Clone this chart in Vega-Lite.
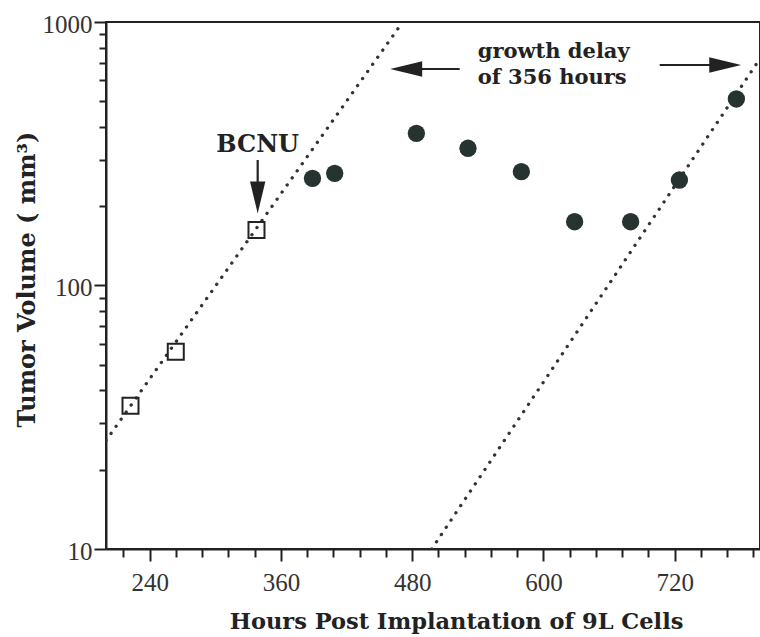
{
  "$schema": "https://vega.github.io/schema/vega-lite/v6.json",
  "width": 654,
  "height": 527,
  "autosize": {"type": "none"},
  "padding": {"left": 106, "top": 22, "right": 0, "bottom": 88},
  "background": "white",
  "config": {
    "view": {"stroke": "#222", "strokeWidth": 2},
    "axis": {
      "grid": false,
      "domainColor": "#222",
      "domainWidth": 2,
      "tickColor": "#222",
      "tickWidth": 2,
      "labelFont": "Liberation Serif",
      "labelFontSize": 25,
      "labelColor": "#333",
      "labelOverlap": false,
      "labelFlush": false,
      "titleFont": "DejaVu Serif",
      "titleFontSize": 22,
      "titleFontWeight": "bold",
      "titleColor": "#222"
    }
  },
  "datasets": {
    "fits": [
      {"hours": 200, "volume": 25.8, "fit": "untreated"},
      {"hours": 471.3, "volume": 1000, "fit": "untreated"},
      {"hours": 497.8, "volume": 10, "fit": "regrowth"},
      {"hours": 798, "volume": 726, "fit": "regrowth"}
    ],
    "beforeTreatment": [
      {"hours": 222.4, "volume": 35.0},
      {"hours": 263.8, "volume": 56.1},
      {"hours": 337.6, "volume": 162.4}
    ],
    "afterTreatment": [
      {"hours": 388.8, "volume": 255.2},
      {"hours": 409.1, "volume": 266.6},
      {"hours": 483.8, "volume": 378},
      {"hours": 531.0, "volume": 331.7},
      {"hours": 579.8, "volume": 270.4},
      {"hours": 628.5, "volume": 174.6},
      {"hours": 679.7, "volume": 174.6},
      {"hours": 724.3, "volume": 251.4},
      {"hours": 776.4, "volume": 510.4}
    ],
    "arrowShafts": [
      {"hours": 338.7, "hours2": 338.7, "volume": 299.5, "volume2": 230.4},
      {"hours": 482.3, "hours2": 523.4, "volume": 663.2, "volume2": 663.2},
      {"hours": 706.3, "hours2": 756.6, "volume": 686.8, "volume2": 686.8}
    ],
    "arrowHeads": [
      {"hours": 338.7, "volume": 215.8, "points": "down"},
      {"hours": 474.5, "volume": 663.2, "points": "left"},
      {"hours": 766.2, "volume": 686.8, "points": "right"}
    ],
    "treatmentLabel": [
      {"hours": 338.7, "volume": 321, "label": "BCNU"}
    ],
    "delayLabel": [
      {"hours": 539.9, "volume": 730.1, "label": "growth delay"},
      {"hours": 539.9, "volume": 581.8, "label": "of 356 hours"}
    ]
  },
  "encoding": {
    "x": {
      "field": "hours",
      "type": "quantitative",
      "scale": {"domain": [200, 798], "nice": false, "zero": false},
      "axis": {
        "title": "Hours Post Implantation of 9L Cells",
        "values": [216, 240, 264, 288, 312, 336, 360, 384, 408, 432, 456, 480, 504, 528, 552, 576, 600, 624, 648, 672, 696, 720, 744, 768, 792],
        "format": "d",
        "labelExpr": "datum.value % 120 == 0 ? datum.label : ''",
        "tickSize": {"condition": {"test": "datum.value % 120 == 0", "value": 12}, "value": 8},
        "labelPadding": 9,
        "titleFontSize": 22.5,
        "titleX": 350,
        "titleY": 79,
        "titleBaseline": "alphabetic"
      }
    },
    "y": {
      "field": "volume",
      "type": "quantitative",
      "scale": {"type": "log", "domain": [10, 1000], "nice": false},
      "axis": {
        "title": "Tumor Volume ( mm³)",
        "values": [10, 20, 30, 40, 50, 60, 70, 80, 90, 100, 200, 300, 400, 500, 600, 700, 800, 900, 1000],
        "format": "d",
        "labelExpr": "datum.value == 10 || datum.value == 100 || datum.value == 1000 ? datum.label : ''",
        "tickSize": {"condition": {"test": "datum.value == 10 || datum.value == 100 || datum.value == 1000", "value": 12}, "value": 7},
        "labelPadding": 2,
        "labelOffset": 2,
        "titleFontSize": 24,
        "titleX": -79,
        "titleY": 257,
        "titleBaseline": "middle"
      }
    }
  },
  "layer": [
    {
      "data": {"name": "fits"},
      "mark": {"type": "line", "clip": true, "strokeDash": [0.1, 8.6], "strokeCap": "round", "strokeWidth": 3.3, "color": "#333"},
      "encoding": {"detail": {"field": "fit", "type": "nominal"}}
    },
    {
      "data": {"name": "beforeTreatment"},
      "mark": {"type": "point", "shape": "square", "filled": false, "size": 256, "strokeWidth": 2, "color": "#222", "opacity": 1}
    },
    {
      "data": {"name": "afterTreatment"},
      "mark": {"type": "point", "shape": "circle", "filled": true, "size": 300, "color": "#263331", "opacity": 1}
    },
    {
      "data": {"name": "arrowShafts"},
      "mark": {"type": "rule", "strokeWidth": 2.2, "color": "#222"},
      "encoding": {
        "x2": {"field": "hours2"},
        "y2": {"field": "volume2"}
      }
    },
    {
      "data": {"name": "arrowHeads"},
      "mark": {"type": "point", "filled": true, "size": 1024, "color": "#222", "opacity": 1},
      "encoding": {
        "shape": {
          "field": "points",
          "type": "nominal",
          "scale": {
            "domain": ["down", "left", "right"],
            "range": ["M-0.48,-1L0.48,-1L0,1Z", "M1,-0.48L1,0.48L-1,0Z", "M-1,-0.48L-1,0.48L1,0Z"]
          },
          "legend": null
        }
      }
    },
    {
      "data": {"name": "treatmentLabel"},
      "mark": {"type": "text", "font": "DejaVu Serif", "fontWeight": "bold", "fontSize": 24, "align": "center", "baseline": "alphabetic", "color": "#222"},
      "encoding": {"text": {"field": "label"}}
    },
    {
      "data": {"name": "delayLabel"},
      "mark": {"type": "text", "font": "DejaVu Serif", "fontWeight": "bold", "fontSize": 21, "align": "left", "baseline": "alphabetic", "color": "#222"},
      "encoding": {"text": {"field": "label"}}
    }
  ]
}
